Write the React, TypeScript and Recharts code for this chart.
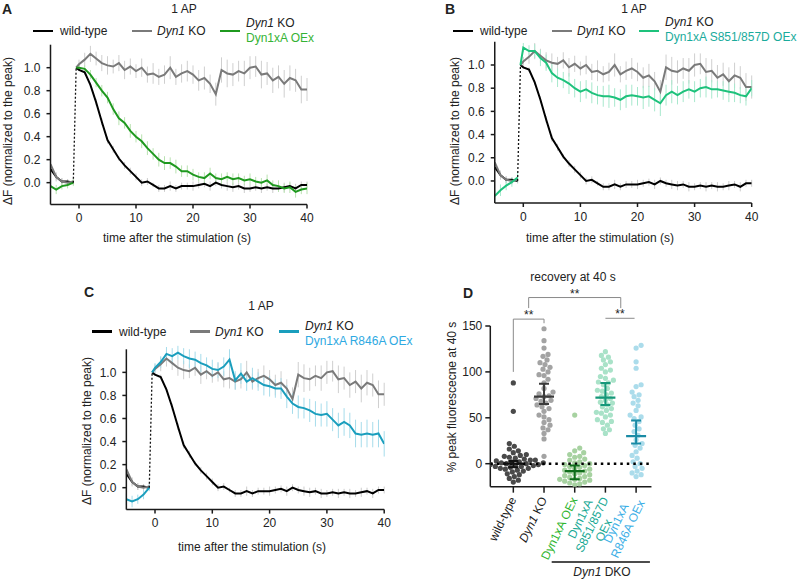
import React from "react";
import {
  ErrorBar,
  Line,
  LineChart,
  ReferenceLine,
  Scatter,
  ScatterChart,
  XAxis,
  YAxis,
} from "recharts";

const FONT = '"Liberation Sans", Arial, Helvetica, sans-serif';

// ---- traces (A, B, C) ----
const preTimes = [-5, -4, -3, -2, -1];
// first point is the normalised peak, just before 0
const postTimes = [
  -0.5, 0,
  1, 2, 3, 4, 5, 6, 7, 8, 9, 10,
  11, 12, 13, 14, 15, 16, 17, 18, 19, 20,
  21, 22, 23, 24, 25, 26, 27, 28, 29, 30,
  31, 32, 33, 34, 35, 36, 37, 38, 39, 40,
];
const xTicks = [0, 10, 20, 30, 40];
const yTicks = [0, 0.2, 0.4, 0.6, 0.8, 1.0];

const wtPre = [0.12, 0.05, 0.01, 0.01, 0.0];
const wtPost = [
  1.0, 0.98,
  0.96, 0.85, 0.7, 0.53, 0.37, 0.29, 0.21, 0.15, 0.1, 0.05,
  0.0, 0.01, -0.02, -0.05, -0.05, -0.03, -0.05, -0.03, -0.03, -0.03,
  -0.02, -0.01, -0.03, 0.0, -0.02, -0.03, -0.04, -0.03, -0.05, -0.05,
  -0.04, -0.05, -0.04, -0.05, -0.05, -0.04, -0.03, -0.05, -0.02, -0.02,
];
const wtErrPre = [0.04, 0.03, 0.03, 0.02, 0.02];
const wtErrPost = [
  0, 0.01,
  0.02, 0.02, 0.03, 0.03, 0.03, 0.03, 0.02, 0.03, 0.03, 0.03,
  0.03, 0.03, 0.02, 0.03, 0.03, 0.04, 0.03, 0.03, 0.03, 0.04,
  0.03, 0.03, 0.04, 0.03, 0.03, 0.04, 0.04, 0.03, 0.04, 0.03,
  0.03, 0.04, 0.03, 0.04, 0.03, 0.04, 0.03, 0.04, 0.03, 0.03,
];

const koPre = [0.16, 0.05, 0.01, 0.0, 0.01];
const koPost = [
  1.0, 1.03,
  1.07, 1.12, 1.08, 1.04, 1.02, 1.01, 1.04, 0.98, 1.01, 0.97,
  1.0, 0.94, 0.95, 0.92, 0.94, 1.0, 0.92, 0.95, 0.97, 0.94,
  0.89, 0.91, 0.86, 0.77, 0.98, 0.95, 0.94, 0.97, 0.95, 1.0,
  1.01, 0.94, 0.95, 0.89, 0.92, 0.86, 0.91, 0.89, 0.81, 0.81,
];
const koErrPre = [0.05, 0.04, 0.03, 0.03, 0.03];
const koErrPost = [
  0, 0.04,
  0.06, 0.07, 0.06, 0.07, 0.08, 0.06, 0.07, 0.08, 0.07, 0.06,
  0.08, 0.07, 0.09, 0.07, 0.08, 0.1, 0.07, 0.08, 0.09, 0.08,
  0.09, 0.1, 0.08, 0.1, 0.11, 0.12, 0.1, 0.09, 0.11, 0.1,
  0.09, 0.12, 0.1, 0.11, 0.1, 0.12, 0.11, 0.1, 0.12, 0.1,
];

// A: Dyn1xA OEx
const oexPre = [-0.03, -0.06, -0.03, -0.02, 0.0];
const oexPost = [
  1.0, 1.0,
  0.99, 0.94, 0.87, 0.8, 0.74, 0.64, 0.56, 0.52, 0.45, 0.4,
  0.36, 0.3, 0.25, 0.2, 0.17, 0.17, 0.14, 0.1, 0.1, 0.07,
  0.05, 0.04, 0.08, 0.04, 0.03, 0.05, 0.03, 0.04, 0.02, 0.03,
  0.01, 0.0, 0.02, -0.02, -0.03, -0.05, -0.04, -0.08, -0.06, -0.05,
];
const oexErrPre = [0.04, 0.04, 0.03, 0.03, 0.03];
const oexErrPost = [
  0, 0.02,
  0.03, 0.04, 0.04, 0.05, 0.05, 0.05, 0.06, 0.05, 0.06, 0.05,
  0.06, 0.06, 0.05, 0.06, 0.06, 0.05, 0.06, 0.05, 0.05, 0.05,
  0.04, 0.05, 0.05, 0.04, 0.05, 0.04, 0.05, 0.04, 0.04, 0.05,
  0.04, 0.04, 0.05, 0.04, 0.05, 0.04, 0.05, 0.05, 0.04, 0.05,
];

// B: Dyn1xA S851/857D OEx
const s851Pre = [-0.13, -0.08, -0.04, -0.01, 0.03];
const s851Post = [
  1.0, 1.15,
  1.12, 1.12, 1.06, 1.02, 0.93, 0.89, 0.87, 0.84, 0.8, 0.77,
  0.79, 0.76, 0.74, 0.73, 0.73, 0.72, 0.7, 0.73, 0.74, 0.73,
  0.72, 0.73, 0.7, 0.67, 0.74, 0.77, 0.74, 0.77, 0.79, 0.77,
  0.8, 0.81, 0.79, 0.79, 0.78, 0.77, 0.76, 0.74, 0.73, 0.8,
];
const s851ErrPre = [0.05, 0.05, 0.04, 0.04, 0.04];
const s851ErrPost = [
  0, 0.04,
  0.05, 0.06, 0.07, 0.07, 0.08, 0.08, 0.07, 0.09, 0.08, 0.09,
  0.08, 0.09, 0.08, 0.09, 0.1, 0.08, 0.09, 0.1, 0.09, 0.08,
  0.1, 0.09, 0.1, 0.11, 0.09, 0.1, 0.08, 0.09, 0.08, 0.09,
  0.08, 0.09, 0.08, 0.07, 0.08, 0.09, 0.08, 0.07, 0.08, 0.07,
];

// C: Dyn1xA R846A OEx
const r846Pre = [-0.1, -0.12, -0.1, -0.06, 0.0];
const r846Post = [
  1.0, 1.04,
  1.09, 1.16, 1.14, 1.17, 1.14, 1.12, 1.11, 1.08, 1.06, 1.03,
  1.02, 1.05, 1.11, 0.93, 0.99, 0.92, 0.95, 0.92, 0.89, 0.88,
  0.86, 0.86, 0.79, 0.73, 0.7, 0.69, 0.67, 0.64, 0.63, 0.64,
  0.59, 0.54, 0.57, 0.54, 0.47, 0.46, 0.47, 0.46, 0.47, 0.38,
];
const r846ErrPre = [0.05, 0.05, 0.04, 0.04, 0.03];
const r846ErrPost = [
  0, 0.04,
  0.05, 0.06, 0.07, 0.06, 0.07, 0.08, 0.07, 0.08, 0.07, 0.08,
  0.07, 0.08, 0.09, 0.08, 0.09, 0.08, 0.09, 0.08, 0.09, 0.09,
  0.08, 0.09, 0.1, 0.09, 0.1, 0.09, 0.1, 0.11, 0.1, 0.11,
  0.1, 0.11, 0.12, 0.11, 0.12, 0.11, 0.12, 0.11, 0.12, 0.11,
];

// ---- recovery at 40 s (D) ----
const dGroups = ["wild-type", "Dyn1 KO", "Dyn1xA OEx", "Dyn1xA S851/857D OEx", "Dyn1xA R846A OEx"];
const dTicks = [0, 50, 100, 150];
const wtDots = [
  88, 57, 22, 19, 16, 14, 12, 10, 9, 8, 7, 6, 5, 4, 4, 3, 2, 2, 1, 1, 0,
  0, 0, -1, -1, -2, -2, -3, -3, -4, -5, -5, -6, -7, -8, -9, -11, -12, -14, -16, -18, -20,
];
const koDots = [
  147, 134, 126, 119, 117, 113, 110, 108, 105, 103, 100, 97, 96, 92, 88, 82, 78, 76, 74,
  73, 71, 69, 68, 66, 64, 62, 60, 57, 53, 51, 48, 45, 42, 39, 37, 33, 27, 8,
];
const oexDots = [
  53, 17, 14, 12, 10, 8, 7, 5, 4, 2, 1, 0, -1, -2, -3, -4, -5, -6, -7, -8, -9,
  -10, -11, -12, -13, -14, -15, -16, -17, -17, -18, -19, -20, -21, -22, -23,
];
const s851Dots = [
  122, 118, 116, 113, 111, 108, 104, 102, 100, 95, 93, 91, 89, 88, 86, 82, 80, 79, 77, 75,
  73, 71, 69, 67, 66, 64, 62, 60, 58, 56, 55, 53, 51, 48, 46, 45, 42, 38, 37, 33,
];
const r846Dots = [
  129, 126, 111, 104, 86, 84, 78, 75, 73, 69, 66, 63, 58, 53, 51, 49, 46, 42, 38, 35,
  31, 26, 22, 20, 17, 13, 9, 6, 2, 0, -3, -5, -8, -10, -12, -14,
];
const dMeans = [0, 73, -8, 72, 30];
const dCiLow = [-4, 65, -17, 64, 22];
const dCiHigh = [3, 87, -2, 88, 47];

const dDotSets = [wtDots, koDots, oexDots, s851Dots, r846Dots];
const dDotFill = ["#4a4a4a", "#a3a3a3", "#a7d2a1", "#a9e2c8", "#abdceb"];
const dMeanColor = ["#111111", "#3b3b3b", "#0f6d1b", "#16987a", "#1a8ba5"];
const dLabelColor = ["#1a1a1a", "#1a1a1a", "#2eb52e", "#17a894", "#3aaee6"];
// how the tick labels of dGroups break into lines
const dLabelLines = [
  [[{ t: "wild-type" }]],
  [[{ t: "Dyn1", i: true }, { t: " KO" }]],
  [[{ t: "Dyn1xA OEx" }]],
  [[{ t: "Dyn1xA" }], [{ t: "S851/857D" }], [{ t: "OEx" }]],
  [[{ t: "Dyn1xA" }], [{ t: "R846A OEx" }]],
];

type Row = Record<string, number | null>;

function buildRows(resPre: number[], resPost: number[], resErrPre: number[], resErrPost: number[]) {
  const rows: Row[] = [];
  preTimes.forEach((t, i) => {
    rows.push({
      t,
      wtPre: wtPre[i],
      koPre: koPre[i],
      resPre: resPre[i],
      wtAll: wtPre[i],
      koAll: koPre[i],
      resAll: resPre[i],
      wtE: wtErrPre[i],
      koE: koErrPre[i],
      resE: resErrPre[i],
      jump: i === preTimes.length - 1 ? wtPre[i] : null,
    });
  });
  postTimes.forEach((t, i) => {
    rows.push({
      t,
      wt: wtPost[i],
      ko: koPost[i],
      res: resPost[i],
      wtAll: wtPost[i],
      koAll: koPost[i],
      resAll: resPost[i],
      wtE: wtErrPost[i],
      koE: koErrPost[i],
      resE: resErrPost[i],
      jump: i === 0 ? wtPost[0] : null,
    });
  });
  return rows;
}

const axisLine = { stroke: "#1a1a1a", strokeWidth: 1.5 };
const tickText = { fontSize: 12, fill: "#222", fontFamily: FONT };
const KO_COLOR = "#7a7a7a";

function Txt({
  left,
  top,
  children,
  color = "#222",
  size = 12,
  bold = false,
  center = false,
}: {
  left: number;
  top: number;
  children: React.ReactNode;
  color?: string;
  size?: number;
  bold?: boolean;
  center?: boolean;
}) {
  return (
    <div
      style={{
        position: "absolute",
        left,
        top,
        transform: center ? "translate(-50%, -50%)" : "translateY(-50%)",
        fontSize: size,
        fontWeight: bold ? 700 : 400,
        color,
        lineHeight: 1,
        whiteSpace: "nowrap",
      }}
    >
      {children}
    </div>
  );
}

function VText({ left, top, children }: { left: number; top: number; children: React.ReactNode }) {
  return (
    <div
      style={{
        position: "absolute",
        left,
        top,
        transform: "translate(-50%, -50%) rotate(-90deg)",
        fontSize: 12,
        color: "#222",
        lineHeight: 1,
        whiteSpace: "nowrap",
      }}
    >
      {children}
    </div>
  );
}

function Swatch({ left, top, color }: { left: number; top: number; color: string }) {
  return (
    <div style={{ position: "absolute", left, top: top - 1.25, width: 20, height: 2.5, background: color }} />
  );
}

function TraceLegend({
  y,
  x1,
  x2,
  x3,
  lab1,
  lab2,
  resLine,
  resText,
  resLabel,
}: {
  y: number;
  x1: number;
  x2: number;
  x3: number;
  lab1: number;
  lab2: number;
  resLine: string;
  resText: string;
  resLabel: string;
}) {
  return (
    <>
      <Swatch left={x1} top={y} color="#000" />
      <Txt left={x1 + 27} top={y}>wild-type</Txt>
      <Swatch left={x2} top={y} color={KO_COLOR} />
      <Txt left={x2 + 25} top={y}>
        <i>Dyn1</i> KO
      </Txt>
      <Swatch left={x3} top={y} color={resLine} />
      <Txt left={x3 + 26} top={lab1}>
        <i>Dyn1</i> KO
      </Txt>
      <Txt left={x3 + 26} top={lab2} color={resText}>
        {resLabel}
      </Txt>
    </>
  );
}

function TracePanel({
  left,
  top,
  margin,
  rows,
  color,
  errColor,
}: {
  left: number;
  top: number;
  margin: { top: number; right: number; bottom: number; left: number };
  rows: Row[];
  color: string;
  errColor: string;
}) {
  return (
    <div style={{ position: "absolute", left, top }}>
      <LineChart width={400} height={260} data={rows} margin={margin}>
        <XAxis
          type="number"
          dataKey="t"
          domain={[-5, 40]}
          ticks={xTicks}
          allowDataOverflow
          height={30}
          tickSize={4}
          tickMargin={5}
          axisLine={axisLine}
          tickLine={axisLine}
          tick={tickText}
        />
        <YAxis
          type="number"
          domain={[-0.19, 1.2]}
          ticks={yTicks}
          allowDataOverflow
          width={40}
          tickSize={4}
          tickMargin={6}
          tickFormatter={(v: number) => v.toFixed(1)}
          axisLine={axisLine}
          tickLine={axisLine}
          tick={tickText}
        />
        <Line dataKey="wtAll" stroke="none" dot={false} isAnimationActive={false}>
          <ErrorBar dataKey="wtE" width={0} stroke="#cccccc" strokeWidth={1} direction="y" isAnimationActive={false} />
        </Line>
        <Line dataKey="koAll" stroke="none" dot={false} isAnimationActive={false}>
          <ErrorBar dataKey="koE" width={0} stroke="#cfcfcf" strokeWidth={1} direction="y" isAnimationActive={false} />
        </Line>
        <Line dataKey="resAll" stroke="none" dot={false} isAnimationActive={false}>
          <ErrorBar dataKey="resE" width={0} stroke={errColor} strokeWidth={1} direction="y" isAnimationActive={false} />
        </Line>
        <Line dataKey="wtPre" stroke="#000" strokeWidth={2} dot={false} isAnimationActive={false} />
        <Line dataKey="wt" stroke="#000" strokeWidth={2} dot={false} isAnimationActive={false} />
        <Line dataKey="koPre" stroke={KO_COLOR} strokeWidth={2} dot={false} isAnimationActive={false} />
        <Line dataKey="ko" stroke={KO_COLOR} strokeWidth={2} dot={false} isAnimationActive={false} />
        <Line dataKey="resPre" stroke={color} strokeWidth={2} dot={false} isAnimationActive={false} />
        <Line dataKey="res" stroke={color} strokeWidth={2} dot={false} isAnimationActive={false} />
        <Line
          dataKey="jump"
          stroke="#111"
          strokeWidth={1.3}
          strokeDasharray="2 2"
          dot={false}
          isAnimationActive={false}
        />
      </LineChart>
    </div>
  );
}

// beeswarm offsets so the dots do not sit on top of each other
const PX_PER_UNIT = 0.918;
const PX_PER_GROUP = 30.7;
function swarm(values: number[], group: number) {
  const placed: { x: number; y: number }[] = [];
  const out: { x: number; y: number }[] = [];
  const sorted = [...values].sort((a, b) => a - b);
  const d = 5;
  for (const v of sorted) {
    const py = v * PX_PER_UNIT;
    let off = 0;
    for (let k = 0; k < 60; k++) {
      const cand = k === 0 ? 0 : (k % 2 ? 1 : -1) * Math.ceil(k / 2);
      if (placed.every((p) => (p.x - cand) ** 2 + (p.y - py) ** 2 >= d * d)) {
        off = cand;
        break;
      }
    }
    placed.push({ x: off, y: py });
    out.push({ x: group + off / PX_PER_GROUP, y: v });
  }
  return out;
}

let measureCtx: CanvasRenderingContext2D | null = null;
function textWidth(s: string, italic?: boolean) {
  if (!measureCtx) measureCtx = document.createElement("canvas").getContext("2d");
  if (!measureCtx) return s.length * 6.5;
  measureCtx.font = `${italic ? "italic " : ""}12px "Liberation Sans"`;
  return measureCtx.measureText(s).width;
}

function DTick(props: any) {
  const { x, y, payload } = props;
  const idx = Math.round(payload.value);
  const lines = dLabelLines[idx];
  if (!lines) return null;
  const widths = lines.map((ln) => ln.reduce((s, seg: any) => s + textWidth(seg.t, seg.i), 0));
  const maxW = Math.max(...widths);
  const lh = 13;
  const n = lines.length;
  return (
    <g transform={`translate(${x},${y}) rotate(-64)`}>
      <title>{dGroups[idx]}</title>
      {lines.map((ln, k) => (
        <text
          key={k}
          x={-maxW / 2 - 1}
          y={(k - (n - 1) / 2) * lh}
          dy="0.35em"
          textAnchor="middle"
          fontSize={12}
          fontFamily={FONT}
          fill={dLabelColor[idx]}
        >
          {ln.map((seg: any, j) => (
            <tspan key={j} fontStyle={seg.i ? "italic" : "normal"}>
              {seg.t}
            </tspan>
          ))}
        </text>
      ))}
    </g>
  );
}

// half widths, in group units, of the mean bar and CI caps
const MEAN_HALF = 10 / PX_PER_GROUP;
const CAP_HALF = 5 / PX_PER_GROUP;
const noMarker = () => <g />;

// a scatter with no markers, only its connecting line: drawn above the dots
function Seg(key: string, pts: { x: number; y: number }[], stroke: string, width: number, dash?: string) {
  return (
    <Scatter
      key={key}
      data={pts}
      line={{ stroke, strokeWidth: width, strokeDasharray: dash }}
      lineType="joint"
      shape={noMarker}
      isAnimationActive={false}
    />
  );
}

function RecoveryPanel() {
  const bracket = "#8a8a8a";
  const star = { value: "**", position: "top" as const, offset: 0, fontSize: 12, fill: "#222", fontFamily: FONT };
  return (
    <div style={{ position: "absolute", left: 420, top: 260 }}>
      <ScatterChart width={240} height={322} margin={{ top: 66, right: 8.55, bottom: 65.35, left: 30.3 }}>
        <XAxis
          type="number"
          dataKey="x"
          domain={[-0.75, 4.5]}
          ticks={[0, 1, 2, 3, 4]}
          allowDataOverflow
          interval={0}
          height={30}
          tickSize={6}
          tickMargin={4}
          axisLine={axisLine}
          tickLine={axisLine}
          tick={<DTick />}
        />
        <YAxis
          type="number"
          dataKey="y"
          domain={[-25, 150]}
          ticks={dTicks}
          allowDataOverflow
          width={40}
          tickSize={5}
          tickMargin={3}
          axisLine={axisLine}
          tickLine={axisLine}
          tick={tickText}
        />
        {dDotSets.map((vals, g) => (
          <Scatter
            key={`dots${g}`}
            data={swarm(vals, g)}
            isAnimationActive={false}
            shape={(p: any) => <circle cx={p.cx} cy={p.cy} r={2.6} fill={dDotFill[g]} />}
          />
        ))}
        {Seg("zero", [{ x: -0.75, y: 0 }, { x: 4.5, y: 0 }], "#000", 2.5, "2.5 4")}
        {dMeans.map((m, g) => [
          Seg(`ci${g}`, [{ x: g, y: dCiLow[g] }, { x: g, y: dCiHigh[g] }], dMeanColor[g], 2),
          Seg(`lo${g}`, [{ x: g - CAP_HALF, y: dCiLow[g] }, { x: g + CAP_HALF, y: dCiLow[g] }], dMeanColor[g], 2),
          Seg(`hi${g}`, [{ x: g - CAP_HALF, y: dCiHigh[g] }, { x: g + CAP_HALF, y: dCiHigh[g] }], dMeanColor[g], 2),
          Seg(`m${g}`, [{ x: g - MEAN_HALF, y: m }, { x: g + MEAN_HALF, y: m }], dMeanColor[g], 2.2),
        ])}
        <ReferenceLine segment={[{ x: 0, y: 100 }, { x: 0, y: 157.5 }]} stroke={bracket} ifOverflow="visible" />
        <ReferenceLine segment={[{ x: 0, y: 157.5 }, { x: 1, y: 157.5 }]} stroke={bracket} ifOverflow="visible" label={star} />
        <ReferenceLine segment={[{ x: 1, y: 153 }, { x: 1, y: 157.5 }]} stroke={bracket} ifOverflow="visible" />
        <ReferenceLine segment={[{ x: 0.5, y: 169.5 }, { x: 0.5, y: 181 }]} stroke={bracket} ifOverflow="visible" />
        <ReferenceLine segment={[{ x: 0.5, y: 181 }, { x: 3.5, y: 181 }]} stroke={bracket} ifOverflow="visible" label={star} />
        <ReferenceLine segment={[{ x: 3.5, y: 169.5 }, { x: 3.5, y: 181 }]} stroke={bracket} ifOverflow="visible" />
        <ReferenceLine segment={[{ x: 3, y: 158.4 }, { x: 3.95, y: 158.4 }]} stroke={bracket} ifOverflow="visible" label={star} />
        <ReferenceLine segment={[{ x: 1.25, y: -107 }, { x: 4.45, y: -107 }]} stroke="#111" strokeWidth={1.5} ifOverflow="visible" />
      </ScatterChart>
    </div>
  );
}

const rowsA = buildRows(oexPre, oexPost, oexErrPre, oexErrPost);
const rowsB = buildRows(s851Pre, s851Post, s851ErrPre, s851ErrPost);
const rowsC = buildRows(r846Pre, r846Post, r846ErrPre, r846ErrPost);

export default function App() {
  return (
    <div
      style={{
        position: "absolute",
        left: 0,
        top: 0,
        width: 800,
        height: 582,
        background: "#fff",
        overflow: "hidden",
        fontFamily: FONT,
        color: "#222",
      }}
    >
      {/* A */}
      <Txt left={2} top={9} size={14} bold>A</Txt>
      <Txt left={184} top={9} center>1 AP</Txt>
      <TraceLegend y={31} x1={33} x2={132} x3={220} lab1={23} lab2={38} resLine="#1f991f" resText="#35b335" resLabel="Dyn1xA OEx" />
      <TracePanel
        left={0}
        top={0}
        margin={{ top: 44.7, right: 93, bottom: 25.5, left: 10.5 }}
        rows={rowsA}
        color="#1f991f"
        errColor="#b9e2b1"
      />
      <VText left={8} top={131}>ΔF (normalized to the peak)</VText>
      <Txt left={177} top={238} center>time after the stimulation (s)</Txt>

      {/* B */}
      <Txt left={445} top={9} size={14} bold>B</Txt>
      <Txt left={634} top={9} center>1 AP</Txt>
      <TraceLegend y={31} x1={453} x2={552} x3={639} lab1={22} lab2={36.5} resLine="#1ec27c" resText="#1aab9c" resLabel="Dyn1xA S851/857D OEx" />
      <TracePanel
        left={400}
        top={0}
        margin={{ top: 41.8, right: 48.3, bottom: 27, left: 54.75 }}
        rows={rowsB}
        color="#1ec27c"
        errColor="#a8e8cd"
      />
      <VText left={455} top={131}>ΔF (normalized to the peak)</VText>
      <Txt left={600} top={238} center>time after the stimulation (s)</Txt>

      {/* C */}
      <Txt left={84} top={292} size={14} bold>C</Txt>
      <Txt left={261} top={306} center>1 AP</Txt>
      <TraceLegend y={331.5} x1={92} x2={190} x3={279} lab1={325.5} lab2={340.5} resLine="#1a9ebd" resText="#2ea9e2" resLabel="Dyn1xA R846A OEx" />
      <TracePanel
        left={0}
        top={290}
        margin={{ top: 59.3, right: 15.8, bottom: 10.4, left: 86.35 }}
        rows={rowsC}
        color="#1a9ebd"
        errColor="#a6dceb"
      />
      <VText left={87} top={431}>ΔF (normalized to the peak)</VText>
      <Txt left={252} top={547} center>time after the stimulation (s)</Txt>

      {/* D */}
      <Txt left={463} top={293} size={14} bold>D</Txt>
      <Txt left={573} top={277} center>recovery at 40 s</Txt>
      <RecoveryPanel />
      <VText left={452} top={397}>% peak fluorescecne at 40 s</VText>
      <Txt left={602} top={572} center>
        <i>Dyn1</i> DKO
      </Txt>
    </div>
  );
}
